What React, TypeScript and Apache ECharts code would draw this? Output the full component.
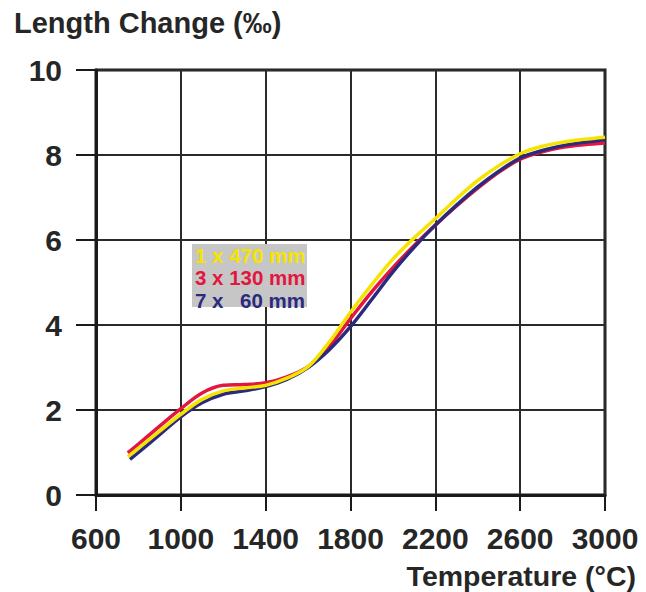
import React, { useEffect, useRef } from "react";
import * as echarts from "echarts";

const temps = [750, 800, 900, 1000, 1100, 1200, 1300, 1400, 1500, 1600, 1700, 1800, 1900, 2000, 2100, 2200, 2300, 2400, 2500, 2600, 2700, 2800, 2900, 3000];
const blueTemps = [760, 800, 900, 1000, 1100, 1200, 1300, 1400, 1500, 1600, 1700, 1800, 1900, 2000, 2100, 2200, 2300, 2400, 2500, 2600, 2700, 2800, 2900, 3000];
const yellow470 = [0.9, 1.1, 1.5, 1.9, 2.25, 2.45, 2.52, 2.58, 2.75, 3.02, 3.6, 4.3, 4.95, 5.55, 6.05, 6.5, 6.97, 7.4, 7.75, 8.03, 8.2, 8.3, 8.37, 8.42];
const red130 = [0.99, 1.2, 1.62, 2.03, 2.4, 2.58, 2.6, 2.64, 2.78, 3.02, 3.5, 4.15, 4.78, 5.35, 5.87, 6.35, 6.8, 7.22, 7.6, 7.9, 8.07, 8.18, 8.24, 8.28];
const blue60 = [0.84, 1.0, 1.42, 1.84, 2.17, 2.37, 2.45, 2.55, 2.72, 3.0, 3.42, 3.96, 4.6, 5.25, 5.83, 6.35, 6.82, 7.25, 7.62, 7.93, 8.1, 8.22, 8.3, 8.36];

const seriesNames = ["1 x 470 mm", "3 x 130 mm", "7 x 60 mm"];
const colors = ["#f5e400", "#e2163f", "#2c2a7f"];
const FONT = '"Liberation Sans", Arial, Helvetica, sans-serif';

function pairs(xs: number[], ys: number[]) {
  return xs.map((x, i) => [x, ys[i]]);
}

export default function App() {
  const ref = useRef<HTMLDivElement>(null);
  useEffect(() => {
    if (!ref.current) return;
    const chart = echarts.init(ref.current, null, { renderer: "svg" });
    const legendText = (text: string, x: number, y: number, color: string, align = "left") => ({
      type: "text",
      x,
      y,
      z: 11,
      style: {
        text,
        fontSize: 20.5,
        fontWeight: "bold",
        fontFamily: FONT,
        fill: color,
        align,
        verticalAlign: "middle",
      },
    });
    chart.setOption({
      animation: false,
      backgroundColor: "#ffffff",
      grid: {
        left: 96,
        right: 41,
        top: 70,
        bottom: 97,
        show: true,
        borderColor: "#1a1a1a",
        borderWidth: 3,
        backgroundColor: "transparent",
      },
      xAxis: {
        type: "value",
        min: 600,
        max: 3000,
        interval: 400,
        axisLine: { show: true, lineStyle: { color: "#1a1a1a", width: 3 } },
        axisTick: { show: true, length: 16, lineStyle: { color: "#1a1a1a", width: 2 } },
        splitLine: { show: true, lineStyle: { color: "#2a2a2a", width: 2 } },
        axisLabel: {
          color: "#262626",
          fontSize: 30,
          fontWeight: "bold",
          fontFamily: FONT,
          margin: 28,
          formatter: (v: number) => String(v),
        },
      },
      yAxis: {
        type: "value",
        min: 0,
        max: 10,
        interval: 2,
        axisLine: { show: true, lineStyle: { color: "#1a1a1a", width: 3 } },
        axisTick: { show: true, length: 20, lineStyle: { color: "#1a1a1a", width: 2 } },
        splitLine: { show: true, lineStyle: { color: "#2a2a2a", width: 2 } },
        axisLabel: {
          color: "#262626",
          fontSize: 30,
          fontWeight: "bold",
          fontFamily: FONT,
          margin: 34,
        },
      },
      series: [
        {
          name: seriesNames[1],
          type: "line",
          smooth: 0.35,
          showSymbol: false,
          data: pairs(temps, red130),
          lineStyle: { color: colors[1], width: 3.5 },
          itemStyle: { color: colors[1] },
          z: 3,
        },
        {
          name: seriesNames[2],
          type: "line",
          smooth: 0.35,
          showSymbol: false,
          data: pairs(blueTemps, blue60),
          lineStyle: { color: colors[2], width: 3.5 },
          itemStyle: { color: colors[2] },
          z: 4,
        },
        {
          name: seriesNames[0],
          type: "line",
          smooth: 0.35,
          showSymbol: false,
          data: pairs(temps, yellow470),
          lineStyle: { color: colors[0], width: 3.5 },
          itemStyle: { color: colors[0] },
          z: 5,
        },
      ],
      graphic: [
        {
          type: "text",
          left: 14,
          top: 8,
          style: {
            text: "Length Change (‰)",
            fontSize: 29,
            fontWeight: "bold",
            fontFamily: FONT,
            fill: "#262626",
          },
        },
        {
          type: "text",
          right: 10,
          top: 561,
          style: {
            text: "Temperature (°C)",
            fontSize: 28.5,
            fontWeight: "bold",
            fontFamily: FONT,
            fill: "#262626",
          },
        },
        {
          type: "rect",
          shape: { x: 192, y: 244, width: 115, height: 63 },
          style: { fill: "#c6c6c6" },
          z: 10,
        },
        legendText("1 x 470 mm", 195, 255, colors[0]),
        legendText("3 x 130 mm", 195, 277, colors[1]),
        legendText("7 x", 195, 300, colors[2]),
        legendText("60 mm", 305, 300, colors[2], "right"),
      ],
    });
    return () => chart.dispose();
  }, []);
  return (
    <div
      ref={ref}
      style={{ position: "absolute", left: 0, top: 0, width: 646, height: 592 }}
    />
  );
}
